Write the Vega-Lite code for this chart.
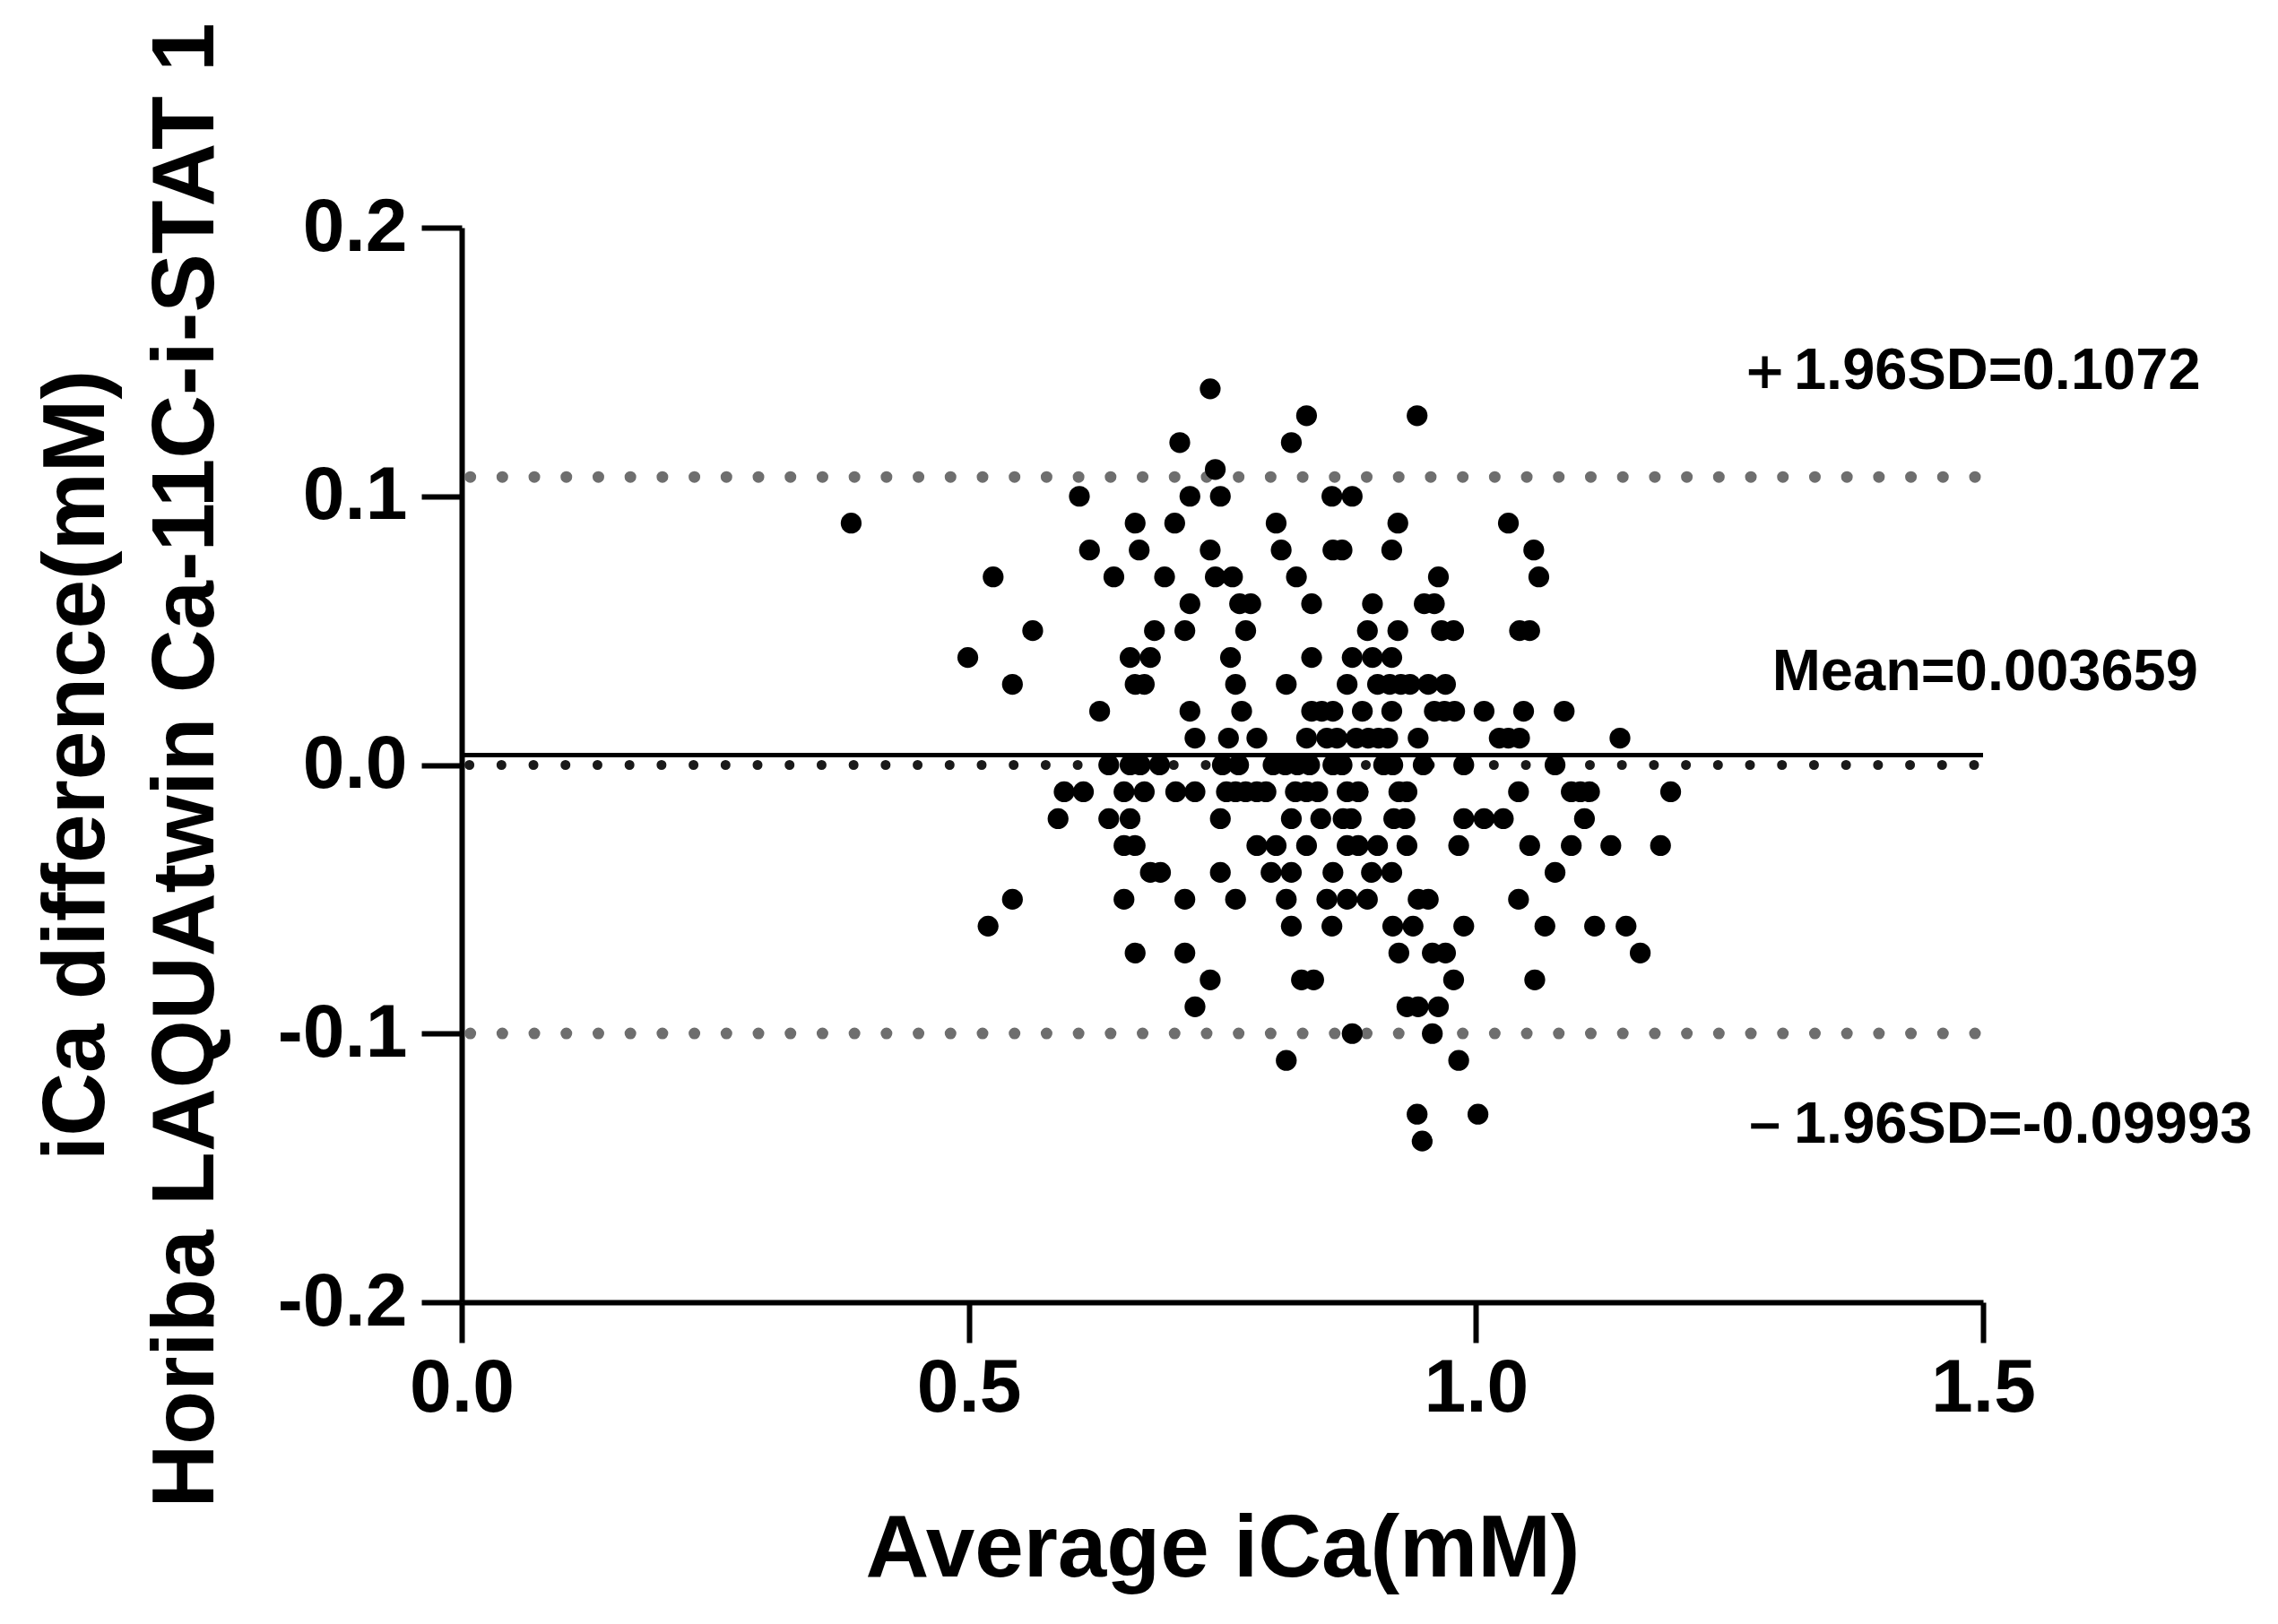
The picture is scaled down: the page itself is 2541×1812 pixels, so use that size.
{
  "$schema": "https://vega.github.io/schema/vega-lite/v6.json",
  "width": 1697,
  "height": 1199,
  "autosize": {"type": "none"},
  "padding": {"left": 515, "top": 254, "right": 329, "bottom": 359},
  "background": "white",
  "config": {"view": {"stroke": null}, "font": "Liberation Sans"},
  "layer": [
    {
      "data": {"values": [{"diff": 0.1072}, {"diff": -0.09993}]},
      "mark": {"type": "rule", "color": "#6e6e6e", "strokeWidth": 13, "strokeCap": "round", "strokeDash": [0.01, 35.7], "strokeDashOffset": -9},
      "encoding": {"y": {"field": "diff", "type": "quantitative"}}
    },
    {
      "data": {"values": [{"diff": 0}]},
      "mark": {"type": "rule", "color": "#1a1a1a", "strokeWidth": 11, "strokeCap": "round", "strokeDash": [0.01, 35.7], "strokeDashOffset": -10},
      "encoding": {"y": {"field": "diff", "type": "quantitative"}}
    },
    {
      "data": {"values": [{"diff": 0.003659}]},
      "mark": {"type": "rule", "color": "black", "strokeWidth": 5},
      "encoding": {"y": {"field": "diff", "type": "quantitative"}}
    },
    {
      "data": {"values": [
        {"avg":0.738,"diff":0.14},
        {"avg":0.833,"diff":0.13},{"avg":0.942,"diff":0.13},
        {"avg":0.708,"diff":0.12},{"avg":0.818,"diff":0.12},
        {"avg":0.743,"diff":0.11},
        {"avg":0.609,"diff":0.10},{"avg":0.718,"diff":0.10},{"avg":0.748,"diff":0.10},{"avg":0.858,"diff":0.10},{"avg":0.878,"diff":0.10},
        {"avg":0.384,"diff":0.09},{"avg":0.664,"diff":0.09},{"avg":0.703,"diff":0.09},{"avg":0.803,"diff":0.09},{"avg":0.923,"diff":0.09},{"avg":1.032,"diff":0.09},
        {"avg":0.619,"diff":0.08},{"avg":0.668,"diff":0.08},{"avg":0.738,"diff":0.08},{"avg":0.808,"diff":0.08},{"avg":0.859,"diff":0.08},{"avg":0.868,"diff":0.08},{"avg":0.917,"diff":0.08},{"avg":1.057,"diff":0.08},
        {"avg":0.524,"diff":0.07},{"avg":0.643,"diff":0.07},{"avg":0.693,"diff":0.07},{"avg":0.743,"diff":0.07},{"avg":0.760,"diff":0.07},{"avg":0.823,"diff":0.07},{"avg":0.963,"diff":0.07},{"avg":1.062,"diff":0.07},
        {"avg":0.718,"diff":0.06},{"avg":0.767,"diff":0.06},{"avg":0.778,"diff":0.06},{"avg":0.838,"diff":0.06},{"avg":0.898,"diff":0.06},{"avg":0.949,"diff":0.06},{"avg":0.959,"diff":0.06},
        {"avg":0.563,"diff":0.05},{"avg":0.683,"diff":0.05},{"avg":0.713,"diff":0.05},{"avg":0.773,"diff":0.05},{"avg":0.893,"diff":0.05},{"avg":0.923,"diff":0.05},{"avg":0.966,"diff":0.05},{"avg":0.978,"diff":0.05},{"avg":1.043,"diff":0.05},{"avg":1.053,"diff":0.05},
        {"avg":0.499,"diff":0.04},{"avg":0.659,"diff":0.04},{"avg":0.679,"diff":0.04},{"avg":0.758,"diff":0.04},{"avg":0.838,"diff":0.04},{"avg":0.878,"diff":0.04},{"avg":0.898,"diff":0.04},{"avg":0.917,"diff":0.04},
        {"avg":0.543,"diff":0.03},{"avg":0.664,"diff":0.03},{"avg":0.673,"diff":0.03},{"avg":0.763,"diff":0.03},{"avg":0.813,"diff":0.03},{"avg":0.873,"diff":0.03},{"avg":0.903,"diff":0.03},{"avg":0.915,"diff":0.03},{"avg":0.926,"diff":0.03},{"avg":0.935,"diff":0.03},{"avg":0.953,"diff":0.03},{"avg":0.970,"diff":0.03},
        {"avg":0.629,"diff":0.02},{"avg":0.718,"diff":0.02},{"avg":0.769,"diff":0.02},{"avg":0.838,"diff":0.02},{"avg":0.848,"diff":0.02},{"avg":0.859,"diff":0.02},{"avg":0.888,"diff":0.02},{"avg":0.917,"diff":0.02},{"avg":0.959,"diff":0.02},{"avg":0.969,"diff":0.02},{"avg":0.979,"diff":0.02},{"avg":1.008,"diff":0.02},{"avg":1.047,"diff":0.02},{"avg":1.087,"diff":0.02},
        {"avg":0.723,"diff":0.01},{"avg":0.756,"diff":0.01},{"avg":0.784,"diff":0.01},{"avg":0.833,"diff":0.01},{"avg":0.853,"diff":0.01},{"avg":0.863,"diff":0.01},{"avg":0.882,"diff":0.01},{"avg":0.894,"diff":0.01},{"avg":0.904,"diff":0.01},{"avg":0.913,"diff":0.01},{"avg":0.943,"diff":0.01},{"avg":1.023,"diff":0.01},{"avg":1.032,"diff":0.01},{"avg":1.043,"diff":0.01},{"avg":1.142,"diff":0.01},
        {"avg":0.638,"diff":0.0},{"avg":0.659,"diff":0.0},{"avg":0.669,"diff":0.0},{"avg":0.688,"diff":0.0},{"avg":0.750,"diff":0.0},{"avg":0.766,"diff":0.0},{"avg":0.800,"diff":0.0},{"avg":0.812,"diff":0.0},{"avg":0.824,"diff":0.0},{"avg":0.836,"diff":0.0},{"avg":0.859,"diff":0.0},{"avg":0.868,"diff":0.0},{"avg":0.909,"diff":0.0},{"avg":0.918,"diff":0.0},{"avg":0.948,"diff":0.0},{"avg":0.988,"diff":0.0},{"avg":1.078,"diff":0.0},
        {"avg":0.594,"diff":-0.01},{"avg":0.613,"diff":-0.01},{"avg":0.653,"diff":-0.01},{"avg":0.673,"diff":-0.01},{"avg":0.704,"diff":-0.01},{"avg":0.723,"diff":-0.01},{"avg":0.754,"diff":-0.01},{"avg":0.763,"diff":-0.01},{"avg":0.773,"diff":-0.01},{"avg":0.784,"diff":-0.01},{"avg":0.793,"diff":-0.01},{"avg":0.822,"diff":-0.01},{"avg":0.833,"diff":-0.01},{"avg":0.844,"diff":-0.01},{"avg":0.873,"diff":-0.01},{"avg":0.884,"diff":-0.01},{"avg":0.924,"diff":-0.01},{"avg":0.932,"diff":-0.01},{"avg":1.042,"diff":-0.01},{"avg":1.094,"diff":-0.01},{"avg":1.103,"diff":-0.01},{"avg":1.112,"diff":-0.01},{"avg":1.192,"diff":-0.01},
        {"avg":0.588,"diff":-0.02},{"avg":0.638,"diff":-0.02},{"avg":0.659,"diff":-0.02},{"avg":0.748,"diff":-0.02},{"avg":0.818,"diff":-0.02},{"avg":0.847,"diff":-0.02},{"avg":0.869,"diff":-0.02},{"avg":0.877,"diff":-0.02},{"avg":0.919,"diff":-0.02},{"avg":0.930,"diff":-0.02},{"avg":0.988,"diff":-0.02},{"avg":1.008,"diff":-0.02},{"avg":1.027,"diff":-0.02},{"avg":1.107,"diff":-0.02},
        {"avg":0.653,"diff":-0.03},{"avg":0.664,"diff":-0.03},{"avg":0.784,"diff":-0.03},{"avg":0.803,"diff":-0.03},{"avg":0.833,"diff":-0.03},{"avg":0.873,"diff":-0.03},{"avg":0.884,"diff":-0.03},{"avg":0.903,"diff":-0.03},{"avg":0.932,"diff":-0.03},{"avg":0.983,"diff":-0.03},{"avg":1.053,"diff":-0.03},{"avg":1.094,"diff":-0.03},{"avg":1.133,"diff":-0.03},{"avg":1.182,"diff":-0.03},
        {"avg":0.679,"diff":-0.04},{"avg":0.689,"diff":-0.04},{"avg":0.748,"diff":-0.04},{"avg":0.798,"diff":-0.04},{"avg":0.818,"diff":-0.04},{"avg":0.859,"diff":-0.04},{"avg":0.897,"diff":-0.04},{"avg":0.917,"diff":-0.04},{"avg":1.078,"diff":-0.04},
        {"avg":0.543,"diff":-0.05},{"avg":0.653,"diff":-0.05},{"avg":0.713,"diff":-0.05},{"avg":0.763,"diff":-0.05},{"avg":0.813,"diff":-0.05},{"avg":0.853,"diff":-0.05},{"avg":0.873,"diff":-0.05},{"avg":0.893,"diff":-0.05},{"avg":0.943,"diff":-0.05},{"avg":0.953,"diff":-0.05},{"avg":1.042,"diff":-0.05},
        {"avg":0.519,"diff":-0.06},{"avg":0.818,"diff":-0.06},{"avg":0.858,"diff":-0.06},{"avg":0.918,"diff":-0.06},{"avg":0.938,"diff":-0.06},{"avg":0.988,"diff":-0.06},{"avg":1.068,"diff":-0.06},{"avg":1.117,"diff":-0.06},{"avg":1.148,"diff":-0.06},
        {"avg":0.664,"diff":-0.07},{"avg":0.713,"diff":-0.07},{"avg":0.924,"diff":-0.07},{"avg":0.957,"diff":-0.07},{"avg":0.970,"diff":-0.07},{"avg":1.162,"diff":-0.07},
        {"avg":0.738,"diff":-0.08},{"avg":0.828,"diff":-0.08},{"avg":0.840,"diff":-0.08},{"avg":0.978,"diff":-0.08},{"avg":1.058,"diff":-0.08},
        {"avg":0.723,"diff":-0.09},{"avg":0.932,"diff":-0.09},{"avg":0.943,"diff":-0.09},{"avg":0.963,"diff":-0.09},
        {"avg":0.878,"diff":-0.10},{"avg":0.957,"diff":-0.10},
        {"avg":0.813,"diff":-0.11},{"avg":0.983,"diff":-0.11},
        {"avg":0.942,"diff":-0.13},{"avg":1.002,"diff":-0.13},
        {"avg":0.947,"diff":-0.14}
      ]},
      "mark": {"type": "circle", "color": "black", "opacity": 1, "size": 540},
      "encoding": {
        "x": {
          "field": "avg", "type": "quantitative",
          "scale": {"domain": [0, 1.5], "nice": false, "zero": false},
          "axis": {
            "title": "Average iCa(mM)", "values": [0, 0.5, 1, 1.5], "format": ".1f", "grid": false,
            "domainWidth": 6, "domainColor": "black", "tickWidth": 6, "tickColor": "black", "tickSize": 45,
            "labelFontSize": 84, "labelFontWeight": "bold", "labelColor": "black", "labelPadding": 10, "labelFlush": false, "labelFont": "Liberation Sans",
            "titleFontSize": 98, "titleFontWeight": "bold", "titleColor": "black", "titleFont": "Liberation Sans",
            "titleY": 305, "titleBaseline": "alphabetic"
          }
        },
        "y": {
          "field": "diff", "type": "quantitative",
          "scale": {"domain": [-0.2, 0.2], "nice": false, "zero": false},
          "axis": {
            "title": ["iCa difference(mM)", "Horiba LAQUAtwin Ca-11C-i-STAT 1"], "values": [-0.2, -0.1, 0, 0.1, 0.2], "grid": false,
            "labelExpr": "replace(format(datum.value, '.1f'), '−', '-')",
            "domainWidth": 6, "domainColor": "black", "tickWidth": 6, "tickColor": "black", "tickSize": 45,
            "labelFontSize": 84, "labelFontWeight": "bold", "labelColor": "black", "labelPadding": 16, "labelFlush": false, "labelFont": "Liberation Sans",
            "titleFontSize": 98, "titleFontWeight": "bold", "titleColor": "black", "titleFont": "Liberation Sans",
            "titleLineHeight": 122, "titleX": -400, "titleBaseline": "alphabetic", "titleAngle": 270
          }
        }
      }
    },
    {
      "data": {"values": [
        {"avg": 1.256, "diff": 0.1465, "label": "＋1.96SD=0.1072"},
        {"avg": 1.292, "diff": 0.0346, "label": "Mean=0.003659"},
        {"avg": 1.256, "diff": -0.134, "label": "－1.96SD=-0.09993"}
      ]},
      "mark": {"type": "text", "align": "left", "baseline": "middle", "fontSize": 65, "fontWeight": "bold", "font": "Liberation Sans", "color": "black"},
      "encoding": {
        "x": {"field": "avg", "type": "quantitative"},
        "y": {"field": "diff", "type": "quantitative"},
        "text": {"field": "label", "type": "nominal"}
      }
    }
  ]
}
